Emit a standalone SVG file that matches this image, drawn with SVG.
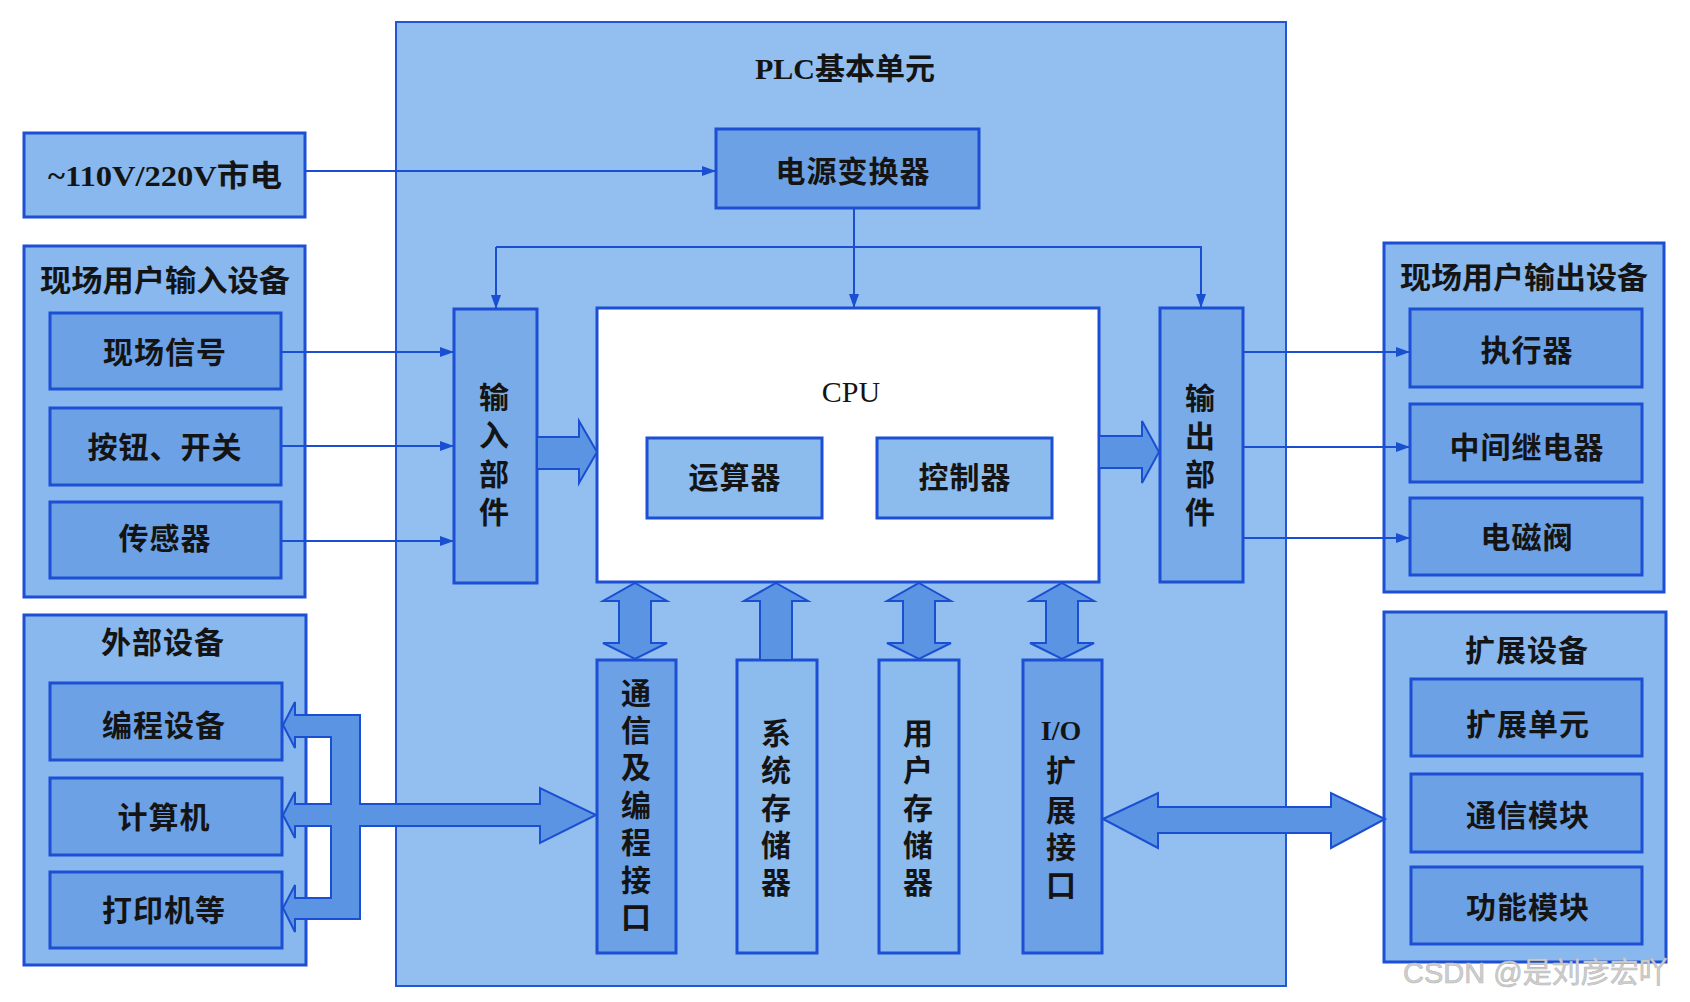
<svg xmlns="http://www.w3.org/2000/svg" width="1690" height="1002" viewBox="0 0 1690 1002">
<defs>
<style>
.plc{fill:#92bfef;stroke:#2356d6;stroke-width:2}
.grp{fill:#88b8ed;stroke:#1c4fd4;stroke-width:3}
.box{fill:#6ca1e5;stroke:#1c4fd4;stroke-width:3}
.lite{fill:#8cbbee;stroke:#1c4fd4;stroke-width:3}
.cpu{fill:#ffffff;stroke:#1c4fd4;stroke-width:3}
.fat{fill:#5b94e2;stroke:#1a4fd2;stroke-width:2;stroke-linejoin:miter}
.ln{fill:none;stroke:#1a4fd2;stroke-width:2}
.t{font-family:"Liberation Serif","Noto Sans CJK SC",serif;font-size:30px;font-weight:bold;fill:#141414;text-anchor:middle}
.tn{font-family:"Liberation Serif","Noto Sans CJK SC",serif;font-size:30px;fill:#141414;text-anchor:middle}
.wm{font-family:"Liberation Sans","Noto Sans CJK SC",sans-serif;font-size:29px;fill:#cfcfcf;stroke:#b8b8b8;stroke-width:0.6}
</style>
<marker id="ah" viewBox="0 0 14 10" refX="14" refY="5" markerWidth="14" markerHeight="10" markerUnits="userSpaceOnUse" orient="auto">
<path d="M0,0 L14,5 L0,10 Z" fill="#1a4fd2"/>
</marker>
</defs>
<rect width="1690" height="1002" fill="#ffffff"/>

<g id="plc">
<rect class="plc" x="396" y="22" width="890" height="964"/>
<text class="t" x="845" y="79" textLength="180" lengthAdjust="spacingAndGlyphs" style="font-weight:600">PLC基本单元</text>
</g>

<g id="mains">
<rect class="grp" x="24" y="133" width="281" height="84"/>
<text class="t" x="165" y="186" textLength="234" lengthAdjust="spacingAndGlyphs" style="font-weight:600">~110V/220V市电</text>
</g>

<g id="input-group">
<rect class="grp" x="24" y="246" width="281" height="351"/>
<text class="t" x="165" y="291" textLength="250" lengthAdjust="spacingAndGlyphs">现场用户输入设备</text>
</g>
<g id="in-signal"><rect class="box" x="50" y="313" width="231" height="76"/><text class="t" x="165" y="363" letter-spacing="1">现场信号</text></g>
<g id="in-button"><rect class="box" x="50" y="408" width="231" height="77"/><text class="t" x="165" y="458" letter-spacing="1">按钮、开关</text></g>
<g id="in-sensor"><rect class="box" x="50" y="502" width="231" height="76"/><text class="t" x="165" y="549" letter-spacing="1">传感器</text></g>

<g id="ext-group">
<rect class="grp" x="24" y="615" width="282" height="350"/>
<text class="t" x="163" y="653" letter-spacing="1">外部设备</text>
</g>
<g id="ext-prog"><rect class="box" x="50" y="683" width="232" height="77"/><text class="t" x="164" y="736" letter-spacing="1">编程设备</text></g>
<g id="ext-pc"><rect class="box" x="50" y="778" width="232" height="77"/><text class="t" x="164" y="828" letter-spacing="1">计算机</text></g>
<g id="ext-printer"><rect class="box" x="50" y="872" width="232" height="76"/><text class="t" x="164" y="921" letter-spacing="1">打印机等</text></g>

<g id="output-group">
<rect class="grp" x="1384" y="243" width="280" height="349"/>
<text class="t" x="1524" y="288" textLength="248" lengthAdjust="spacingAndGlyphs">现场用户输出设备</text>
</g>
<g id="out-actuator"><rect class="box" x="1410" y="309" width="232" height="78"/><text class="t" x="1527" y="361" letter-spacing="1">执行器</text></g>
<g id="out-relay"><rect class="box" x="1410" y="404" width="232" height="78"/><text class="t" x="1527" y="458" letter-spacing="1">中间继电器</text></g>
<g id="out-valve"><rect class="box" x="1410" y="498" width="232" height="77"/><text class="t" x="1527" y="548" letter-spacing="1">电磁阀</text></g>

<g id="expand-group">
<rect class="grp" x="1384" y="612" width="282" height="350"/>
<text class="t" x="1527" y="661" letter-spacing="1">扩展设备</text>
</g>
<g id="exp-unit"><rect class="box" x="1411" y="679" width="231" height="77"/><text class="t" x="1528" y="735" letter-spacing="1">扩展单元</text></g>
<g id="exp-comm"><rect class="box" x="1411" y="774" width="231" height="78"/><text class="t" x="1528" y="826" letter-spacing="1">通信模块</text></g>
<g id="exp-func"><rect class="box" x="1411" y="867" width="231" height="77"/><text class="t" x="1528" y="918" letter-spacing="1">功能模块</text></g>

<g id="power"><rect class="box" x="716" y="129" width="263" height="79"/><text class="t" x="853" y="182" letter-spacing="1">电源变换器</text></g>

<g id="input-unit"><rect class="box" x="454" y="309" width="83" height="274" style="fill:#78abe8"/>
<text class="t"><tspan x="494" y="408">输</tspan><tspan x="494" y="446">入</tspan><tspan x="494" y="485">部</tspan><tspan x="494" y="523">件</tspan></text></g>

<g id="output-unit"><rect class="box" x="1160" y="308" width="83" height="274" style="fill:#78abe8"/>
<text class="t"><tspan x="1200" y="409">输</tspan><tspan x="1200" y="447">出</tspan><tspan x="1200" y="485">部</tspan><tspan x="1200" y="523">件</tspan></text></g>

<g id="cpu"><rect class="cpu" x="597" y="308" width="502" height="274"/>
<text class="tn" x="851" y="402">CPU</text></g>
<g id="alu"><rect class="lite" x="647" y="438" width="175" height="80"/><text class="t" x="735" y="488" letter-spacing="1">运算器</text></g>
<g id="ctrl"><rect class="lite" x="877" y="438" width="175" height="80"/><text class="t" x="965" y="488" letter-spacing="1">控制器</text></g>

<g id="comm-if"><rect class="box" x="597" y="660" width="79" height="293"/>
<text class="t"><tspan x="636" y="704">通</tspan><tspan x="636" y="741">信</tspan><tspan x="636" y="778">及</tspan><tspan x="636" y="816">编</tspan><tspan x="636" y="853">程</tspan><tspan x="636" y="891">接</tspan><tspan x="636" y="928">口</tspan></text></g>
<g id="sys-mem"><rect class="lite" x="737" y="660" width="80" height="293"/>
<text class="t"><tspan x="776" y="744">系</tspan><tspan x="776" y="781">统</tspan><tspan x="776" y="819">存</tspan><tspan x="776" y="856">储</tspan><tspan x="776" y="893">器</tspan></text></g>
<g id="user-mem"><rect class="lite" x="879" y="660" width="80" height="293"/>
<text class="t"><tspan x="918" y="744">用</tspan><tspan x="918" y="781">户</tspan><tspan x="918" y="819">存</tspan><tspan x="918" y="856">储</tspan><tspan x="918" y="893">器</tspan></text></g>
<g id="io-ext"><rect class="box" x="1023" y="660" width="79" height="293"/>
<text class="t"><tspan x="1061" y="740" style="font-size:28px">I/O</tspan><tspan x="1061" y="781">扩</tspan><tspan x="1061" y="821">展</tspan><tspan x="1061" y="858">接</tspan><tspan x="1061" y="896">口</tspan></text></g>

<g id="connectors">
<path class="ln" d="M305,171 H716" marker-end="url(#ah)"/>
<path class="ln" d="M854,208 V308" marker-end="url(#ah)"/>
<path class="ln" d="M496,247 H1201 V308" marker-end="url(#ah)"/>
<path class="ln" d="M496,247 V309" marker-end="url(#ah)"/>
<path class="ln" d="M281,352 H454" marker-end="url(#ah)"/>
<path class="ln" d="M281,446 H454" marker-end="url(#ah)"/>
<path class="ln" d="M281,541 H454" marker-end="url(#ah)"/>
<path class="ln" d="M1243,352 H1410" marker-end="url(#ah)"/>
<path class="ln" d="M1243,447 H1410" marker-end="url(#ah)"/>
<path class="ln" d="M1243,538 H1410" marker-end="url(#ah)"/>
<polygon class="fat" points="537,437 579,437 579,421 597,452 579,483 579,469 537,469"/>
<polygon class="fat" points="1099,436 1142,436 1142,421 1159,452 1142,483 1142,468 1099,468"/>
<polygon class="fat" points="635,583 667,601 651,601 651,643 667,643 635,659 603,643 619,643 619,601 603,601"/>
<polygon class="fat" points="776,583 808,601 792,601 792,660 760,660 760,601 744,601"/>
<polygon class="fat" points="919,583 951,601 935,601 935,643 951,643 919,659 887,643 903,643 903,601 887,601"/>
<polygon class="fat" points="1062,583 1094,601 1078,601 1078,643 1094,643 1062,659 1030,643 1046,643 1046,601 1030,601"/>
<polygon class="fat" points="1103,819 1158,793 1158,807 1331,807 1331,793 1385,819 1331,848 1331,833 1158,833 1158,848"/>
<path class="fat" d="M283,725 L295,702 L295,715 L360,715 L360,804 L540,804 L540,788 L596,815 L540,843 L540,826 L360,826 L360,919 L295,919 L295,932 L283,908 L295,885 L295,898 L331,898 L331,826 L295,826 L295,838 L283,815 L295,792 L295,804 L331,804 L331,737 L295,737 L295,748 Z"/>
</g>

<text class="wm" x="1403" y="983">CSDN @是刘彦宏吖</text>
</svg>
